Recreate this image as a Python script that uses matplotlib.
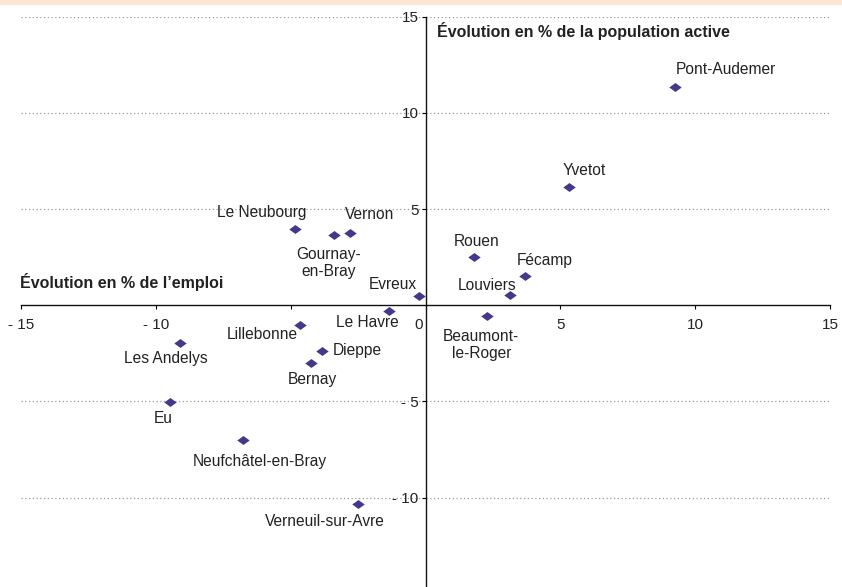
import matplotlib
matplotlib.use("Agg")
import matplotlib.pyplot as plt
import matplotlib.transforms as mtransforms
from matplotlib.path import Path

plt.rcParams['font.family'] = ['Liberation Sans', 'DejaVu Sans']

# data: change of employment (x) vs change of working population (y), in %
towns = ["Pont-Audemer", "Yvetot", "Le Neubourg", "Gournay-\nen-Bray", "Vernon",
         "Evreux", "Le Havre", "Rouen", "Fécamp", "Louviers", "Beaumont-\nle-Roger",
         "Lillebonne", "Les Andelys", "Dieppe", "Bernay", "Eu",
         "Neufchâtel-en-Bray", "Verneuil-sur-Avre"]
emploi = [9.25, 5.33, -4.85, -3.41, -2.79, -0.23, -1.37, 1.79, 3.68, 3.12, 2.29,
          -4.67, -9.1, -3.85, -4.25, -9.48, -6.75, -2.52]
pop_active = [11.37, 6.17, 3.94, 3.66, 3.75, 0.49, -0.29, 2.50, 1.53, 0.55, -0.56,
              -1.03, -1.98, -2.4, -3.02, -5.05, -6.99, -10.36]

xticks = [-15, -10, -5, 0, 5, 10, 15]
xlabels = ["- 15", "- 10", "", "0", "5", "10", "15"]
yticks = [-10, -5, 5, 10, 15]
ylabels = ["- 10", "- 5", "5", "10", "15"]

# label placement (offset in pixels, horizontal alignment)
label_pos = {
    "Pont-Audemer": (1, 17, "left"),
    "Yvetot": (-7, 16, "left"),
    "Le Neubourg": (12, 17, "right"),
    "Gournay-\nen-Bray": (-5, -28, "center"),
    "Vernon": (-5, 19, "left"),
    "Evreux": (-2, 11, "right"),
    "Le Havre": (-21, -12, "center"),
    "Rouen": (3, 16, "center"),
    "Fécamp": (-8, 15, "left"),
    "Louviers": (7, 9, "right"),
    "Beaumont-\nle-Roger": (-6, -29, "center"),
    "Lillebonne": (-2, -9, "right"),
    "Les Andelys": (-14, -15, "center"),
    "Dieppe": (11, 1, "left"),
    "Bernay": (1, -16, "center"),
    "Eu": (-7, -16, "center"),
    "Neufchâtel-en-Bray": (16, -22, "center"),
    "Verneuil-sur-Avre": (-33, -17, "center"),
}

txt = "#222222"
purple = "#46368c"

fig = plt.figure(figsize=(8.42, 5.87), dpi=100)
# peach band at the very top
fig.patches.append(plt.Rectangle((0, 1 - 4 / 587), 1, 4 / 587, transform=fig.transFigure,
                                 color="#fbe7d3", zorder=0))

ax = fig.add_axes([21 / 842, 0, 809 / 842, (587 - 16.75) / 587])
ax.set_xlim(-15, 15)
ax.set_ylim(-14.65, 15)

for y in yticks:
    ax.axhline(y, color="#9a9a9a", lw=0.9, ls=(0, (1, 2)), zorder=1)

diamond = Path([(-1, 0), (0, 0.72), (1, 0), (0, -0.72), (-1, 0)],
               [Path.MOVETO, Path.LINETO, Path.LINETO, Path.LINETO, Path.CLOSEPOLY])
ax.scatter(emploi, pop_active, marker=diamond, s=80, color=purple, lw=0, zorder=3)

for name, x, y in zip(towns, emploi, pop_active):
    dx, dy, ha = label_pos[name]
    ax.annotate(name, (x, y), xytext=(dx, dy), textcoords="offset pixels",
                ha=ha, va="center", fontsize=11.2, color=txt, linespacing=1.2)

for side in ["top", "right"]:
    ax.spines[side].set_visible(False)
ax.spines["left"].set_position(("data", 0))
ax.spines["bottom"].set_position(("data", 0))
for side in ["left", "bottom"]:
    ax.spines[side].set_color("#111111")
    ax.spines[side].set_linewidth(1.0)

ax.set_xticks(xticks)
ax.set_xticklabels(xlabels)
ax.set_yticks(yticks)
ax.set_yticklabels(ylabels)
ax.tick_params(axis="x", direction="out", length=3, pad=6, labelsize=11, labelcolor=txt)
ax.tick_params(axis="y", direction="out", length=3, pad=2, labelsize=11, labelcolor=txt)

# move the "0" label left of the vertical axis
zero_label = ax.get_xticklabels()[3]
zero_label.set_transform(zero_label.get_transform() +
                         mtransforms.ScaledTranslation(-7 / 100, 0, fig.dpi_scale_trans))

ax.text(437, 587 - 31, "Évolution en % de la population active", transform=None,
        fontsize=11.5, fontweight="bold", color=txt, va="center", ha="left")
ax.text(20, 587 - 282, "Évolution en % de l\u2019emploi", transform=None,
        fontsize=11.5, fontweight="bold", color=txt, va="center", ha="left")

fig.savefig("out.png", dpi=100)
